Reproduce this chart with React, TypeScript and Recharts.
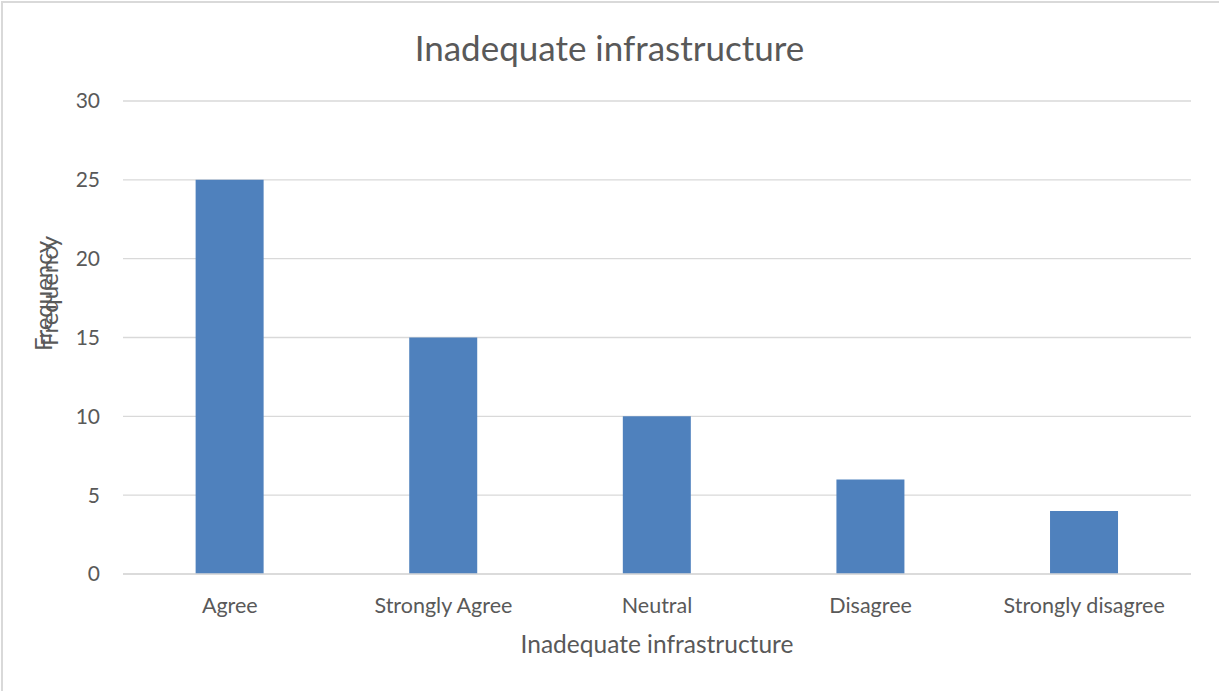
import { BarChart, Bar, XAxis, YAxis, CartesianGrid } from "recharts";

const categories = ["Agree", "Strongly Agree", "Neutral", "Disagree", "Strongly disagree"];
const frequency = [25, 15, 10, 6, 4];
const yTicks = [0, 5, 10, 15, 20, 25, 30];

const data = categories.map((c, i) => ({ name: c, value: frequency[i] }));

const FONT = "Lato, 'Open Sans', sans-serif";
const GREY = "#595959";

// Excel rendered the axis title twice, slightly offset
function YLabel() {
  const cy = 293;
  return (
    <g fill={GREY} fontSize={24} fontFamily={FONT}>
      <text x={0} y={0} textAnchor="middle" transform={`translate(52, ${cy + 3}) rotate(-90)`}>
        Frequency
      </text>
      <text x={0} y={0} textAnchor="middle" transform={`translate(58, ${cy - 2}) rotate(-90)`}>
        Frequency
      </text>
    </g>
  );
}

export default function App() {
  return (
    <div style={{ position: "absolute", left: 0, top: 0, width: 1219, height: 691, background: "#fff", overflow: "hidden" }}>
      <div
        style={{
          position: "absolute",
          left: 1,
          top: 1,
          width: 1240,
          height: 710,
          border: "2px solid #d9d9d9",
          boxSizing: "border-box",
        }}
      />
      <div
        style={{
          position: "absolute",
          left: 0,
          width: 1219,
          top: 26,
          textAlign: "center",
          fontFamily: FONT,
          fontSize: 35,
          color: GREY,
          lineHeight: "42px",
        }}
      >
        Inadequate infrastructure
      </div>
      <div style={{ position: "absolute", left: 0, top: 0 }}>
        <BarChart
          width={1219}
          height={691}
          data={data}
          margin={{ top: 101, right: 28, left: 63, bottom: 37 }}
          barCategoryGap="34%"
        >
          <CartesianGrid vertical={false} stroke="#d9d9d9" strokeWidth={1.3} />
          <XAxis
            dataKey="name"
            height={80}
            tickLine={false}
            axisLine={{ stroke: "#d9d9d9", strokeWidth: 1.5 }}
            tickMargin={18}
            tick={{ fill: GREY, fontSize: 21.5, fontFamily: FONT }}
            interval={0}
            label={{
              value: "Inadequate infrastructure",
              position: "insideBottom",
              offset: 1,
              fill: GREY,
              fontSize: 24.5,
              fontFamily: FONT,
            }}
          />
          <YAxis
            width={60}
            domain={[0, 30]}
            ticks={yTicks}
            tickLine={false}
            axisLine={false}
            tickMargin={17}
            tick={{ fill: GREY, fontSize: 21, fontFamily: FONT }}
            label={<YLabel />}
          />
          <Bar dataKey="value" fill="#4f81bd" isAnimationActive={false} />
        </BarChart>
      </div>
    </div>
  );
}
